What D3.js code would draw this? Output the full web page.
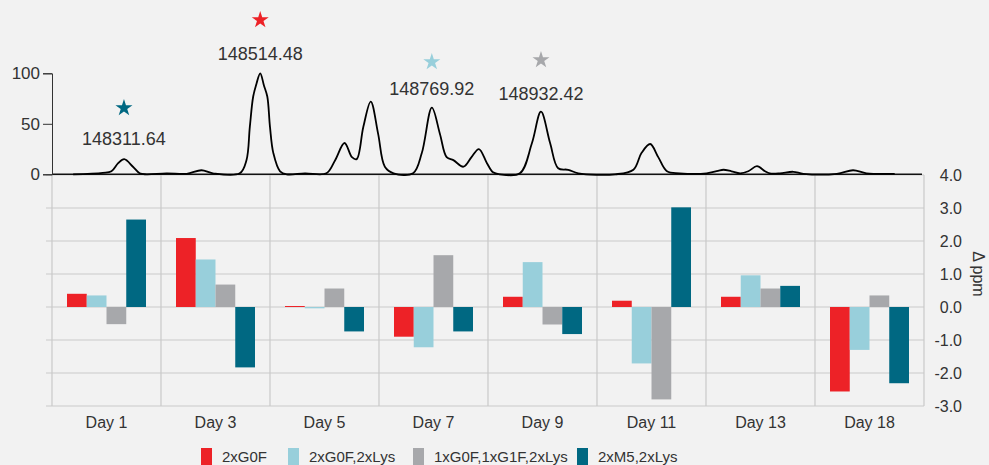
<!DOCTYPE html>
<html>
<head>
<meta charset="utf-8">
<script src="https://cdn.jsdelivr.net/npm/d3@7"></script>
<style>
    body { margin: 0; background: #f2f2f2; }
    text { font-family: "Liberation Sans", Arial, sans-serif; fill: #333; }
</style>
</head>
<body>
<svg id="chart"></svg>
<script>
const w = 989;
const h = 465;

// bar data (delta ppm per day)
const days = ["Day 1", "Day 3", "Day 5", "Day 7", "Day 9", "Day 11", "Day 13", "Day 18"];
const seriesNames = ["2xG0F", "2xG0F,2xLys", "1xG0F,1xG1F,2xLys", "2xM5,2xLys"];
const g0f = [0.40, 2.09, 0.03, -0.90, 0.31, 0.19, 0.31, -2.56];
const g0fLys = [0.35, 1.44, -0.04, -1.22, 1.36, -1.71, 0.96, -1.30];
const g0fG1fLys = [-0.52, 0.68, 0.56, 1.57, -0.53, -2.80, 0.56, 0.35];
const m5Lys = [2.65, -1.83, -0.74, -0.74, -0.82, 3.02, 0.64, -2.31];
const ppmTicks = [-3, -2, -1, 0, 1, 2, 3, 4];

// deconvoluted spectrum trace (mass, relative intensity)
const specMass = [148236, 148280, 148293, 148303, 148312, 148325, 148335, 148345, 148375, 148405,
    148427, 148444, 148484, 148494, 148499, 148504, 148509, 148514.5, 148520, 148525, 148529, 148534, 148544, 148554,
    148581, 148613, 148626, 148640, 148651, 148658, 148668, 148679, 148690, 148700, 148713,
    148742, 148755, 148770, 148782, 148792, 148802, 148817, 148829, 148840, 148852, 148861, 148871,
    148901, 148919, 148932.4, 148946, 148958, 148973, 148988, 149043,
    149070, 149082, 149095, 149107, 149120, 149139, 149179, 149196, 149204, 149216, 149229,
    149241, 149254, 149266, 149273, 149288, 149308, 149323, 149373, 149397, 149417, 149459];
const specIntensity = [0, 1.5, 3, 11, 15, 7.5, 1, 0, 1, 0.5,
    4, 1, 1, 14, 47, 77, 90, 100, 88, 77, 47, 21, 3, 0,
    1, 1, 14, 31, 17, 15, 47, 72, 40, 7.5, 1,
    1, 21, 66, 40, 17, 14, 7.5, 17, 25, 11, 2, 0,
    1, 31, 62, 31, 6, 4.5, 1, 0,
    4.5, 21, 30, 17, 3, 1, 1, 3.5, 4.5, 3, 1,
    3, 8, 3, 1, 1, 2.5, 0.5, 0.5, 4, 1, 0.5];
const intensityTicks = [0, 50, 100];
const peakMasses = [148311.64, 148514.48, 148769.92, 148932.42];

const colors = ["#ed2227", "#98cfdb", "#a7a8ab", "#006882"];
const starY = [108, 20, 62, 60];
const peakLabelY = [145, 60, 95, 100];

const left = 52, right = 924;
const specTop = 73.3, specBase = 174.3;
const barTop = 175, barBottom = 406;

const svg = d3.select("#chart").attr("width", w).attr("height", h);

// ---- bars ----
const x0 = d3.scaleBand().domain(days).range([left, right]);
const x1 = d3.scaleBand().domain(seriesNames).range([15, 94]);
const y = d3.scaleLinear().domain([-3, 4]).range([barBottom, barTop]);

const grid = svg.append("g").attr("stroke", "#c9c9c9").attr("stroke-width", 1.2);
grid.selectAll(".hg")
    .data(ppmTicks)
    .enter()
    .append("line")
    .attr("x1", left - 6)
    .attr("x2", right)
    .attr("y1", d => y(d))
    .attr("y2", d => y(d));
grid.selectAll(".vg")
    .data(days.concat(["end"]))
    .enter()
    .append("line")
    .attr("x1", (d, i) => left + i * x0.bandwidth())
    .attr("x2", (d, i) => left + i * x0.bandwidth())
    .attr("y1", barTop)
    .attr("y2", barBottom);

const allSeries = [g0f, g0fLys, g0fG1fLys, m5Lys];
const groups = svg.selectAll(".day")
    .data(days)
    .enter()
    .append("g")
    .attr("transform", d => "translate(" + x0(d) + ",0)");

groups.selectAll("rect")
    .data((d, i) => allSeries.map((s, j) => ({ name: seriesNames[j], value: s[i], color: colors[j] })))
    .enter()
    .append("rect")
    .attr("x", d => x1(d.name))
    .attr("y", d => y(Math.max(0, d.value)))
    .attr("width", x1.bandwidth())
    .attr("height", d => Math.abs(y(d.value) - y(0)))
    .attr("fill", d => d.color);

const rightAxis = svg.append("g")
    .attr("transform", "translate(" + right + ",0)")
    .call(d3.axisRight(y).tickValues(ppmTicks).tickSize(0).tickPadding(38).tickFormat(d => d.toFixed(1)));
rightAxis.select(".domain").remove();
rightAxis.selectAll("text")
    .attr("text-anchor", "end")
    .attr("font-size", "16px")
    .attr("fill", "#333");

svg.append("text")
    .attr("transform", "translate(973,274) rotate(90)")
    .attr("text-anchor", "middle")
    .attr("font-size", "16px")
    .text("Δ ppm");

const bottomAxis = svg.append("g")
    .attr("transform", "translate(0," + barBottom + ")")
    .call(d3.axisBottom(x0).tickSize(0).tickPadding(11));
bottomAxis.select(".domain").remove();
bottomAxis.selectAll("text")
    .attr("font-size", "16px")
    .attr("fill", "#333");

// ---- spectrum ----
const xm = d3.scaleLinear().domain([148204.5, 149502.6]).range([left, right]);
const ys = d3.scaleLinear().domain([0, 100]).range([specBase, specTop]);

svg.append("line")
    .attr("x1", left)
    .attr("x2", right - 2)
    .attr("y1", specBase)
    .attr("y2", specBase)
    .attr("stroke", "#111")
    .attr("stroke-width", 1.5);

const leftAxis = svg.append("g")
    .attr("transform", "translate(" + left + ",0)")
    .call(d3.axisLeft(ys).tickValues(intensityTicks).tickSize(9).tickPadding(3));
leftAxis.select(".domain").attr("stroke", "#333");
leftAxis.selectAll("line").attr("stroke", "#333");
leftAxis.selectAll("text").attr("font-size", "17px").attr("fill", "#333");

const specPoints = specMass.map((m, i) => [m, specIntensity[i]]);
svg.append("path")
    .datum(specPoints)
    .attr("fill", "none")
    .attr("stroke", "#000")
    .attr("stroke-width", 1.8)
    .attr("stroke-linejoin", "round")
    .attr("d", d3.line().x(d => xm(d[0])).y(d => ys(d[1])).curve(d3.curveCatmullRom.alpha(0.5)));

svg.selectAll(".star")
    .data(peakMasses)
    .enter()
    .append("path")
    .attr("d", d3.symbol().type(d3.symbolStar).size(90))
    .attr("transform", (d, i) => "translate(" + xm(d) + "," + starY[i] + ")")
    .attr("fill", (d, i) => colors[(i + 3) % 4]);

svg.selectAll(".peakLabel")
    .data(peakMasses)
    .enter()
    .append("text")
    .attr("x", d => xm(d))
    .attr("y", (d, i) => peakLabelY[i])
    .attr("text-anchor", "middle")
    .attr("font-size", "18px")
    .text(d => d.toFixed(2));

// ---- legend ----
const legendX = [201, 288, 413, 577];
const legend = svg.selectAll(".legend")
    .data(seriesNames)
    .enter()
    .append("g")
    .attr("transform", (d, i) => "translate(" + legendX[i] + ",448)");
legend.append("rect")
    .attr("width", 11)
    .attr("height", 17)
    .attr("fill", (d, i) => colors[i]);
legend.append("text")
    .attr("x", 21)
    .attr("y", 13.5)
    .attr("font-size", "15px")
    .text(d => d);
</script>
</body>
</html>
